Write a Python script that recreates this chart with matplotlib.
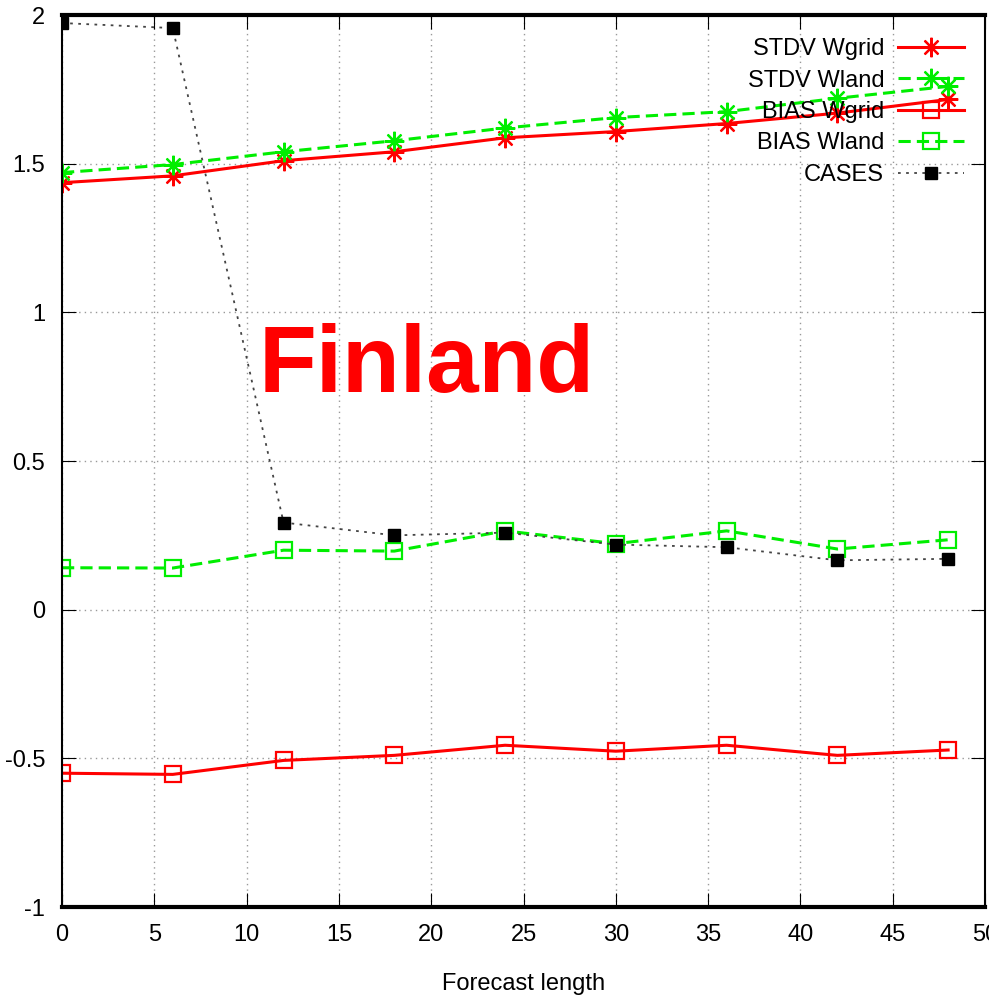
import matplotlib
matplotlib.use("Agg")
import matplotlib.pyplot as plt
import numpy as np

plt.rcParams['font.family'] = ['Liberation Sans Narrow', 'Liberation Sans', 'DejaVu Sans']

# forecast length (hours)
hours = [0, 6, 12, 18, 24, 30, 36, 42, 48]

stdv_wgrid = [1.436, 1.459, 1.51, 1.54, 1.587, 1.608, 1.635, 1.67, 1.716]
stdv_wland = [1.47, 1.497, 1.54, 1.577, 1.62, 1.655, 1.675, 1.72, 1.76]
bias_wgrid = [-0.55, -0.554, -0.507, -0.49, -0.456, -0.476, -0.456, -0.49, -0.472]
bias_wland = [0.141, 0.14, 0.20, 0.197, 0.265, 0.222, 0.265, 0.204, 0.235]
cases = [1.973, 1.956, 0.293, 0.25, 0.259, 0.219, 0.21, 0.166, 0.171]

fig = plt.figure(figsize=(9.89, 10), dpi=100)
ax = fig.add_axes([0.0627, 0.093, 0.9333, 0.892])

star = (8, 2, 0)
ax.plot(hours, stdv_wgrid, color='#ff0000', lw=2.2, marker=star, ms=14, mew=1.6,
        label='STDV Wgrid')
ax.plot(hours, stdv_wland, color='#00ee00', lw=2.2, ls=(0, (4, 2)), marker=star, ms=14,
        mew=1.6, label='STDV Wland')
ax.plot(hours, bias_wgrid, color='#ff0000', lw=2.2, marker='s', ms=11, mfc='none',
        mew=1.6, label='BIAS Wgrid')
ax.plot(hours, bias_wland, color='#00ee00', lw=2.2, ls=(0, (4, 2)), marker='s', ms=11,
        mfc='none', mew=1.6, label='BIAS Wland')
ax.plot(hours, cases, color='#444444', lw=1.3, ls=(0, (1.5, 3)), marker='s', ms=9,
        mfc='black', mec='black', label='CASES')

ax.set_xlim(0, 50)
ax.set_ylim(-1, 2)
ax.set_xticks(np.arange(0, 51, 5))
ax.set_yticks(np.arange(-1, 2.01, 0.5))
ax.set_yticklabels(['-1', '-0.5', '0', '0.5', '1', '1.5', '2'])
ax.grid(True, color='#999999', ls=(0, (1, 3)), lw=1)
ax.tick_params(direction='in', length=10, labelsize=17, pad=12, right=True, top=True)
for side in ['top', 'bottom']:
    ax.spines[side].set_linewidth(3)
ax.spines['left'].set_linewidth(1.5)
ax.spines['right'].set_linewidth(1.5)

ax.set_xlabel('Forecast length', fontsize=17, labelpad=20)

ax.text(0.395, 0.605, 'Finland', transform=ax.transAxes, color='#ff0000',
        fontsize=68, fontweight='bold', family=['Liberation Sans', 'DejaVu Sans'],
        ha='center', va='center')

ax.legend(loc='upper right', bbox_to_anchor=(0.993, 0.99), frameon=False,
          markerfirst=False, fontsize=17, handlelength=2.8, labelspacing=0.4,
          handletextpad=0.6, borderaxespad=0.2)

fig.savefig('out.png', dpi=100)
